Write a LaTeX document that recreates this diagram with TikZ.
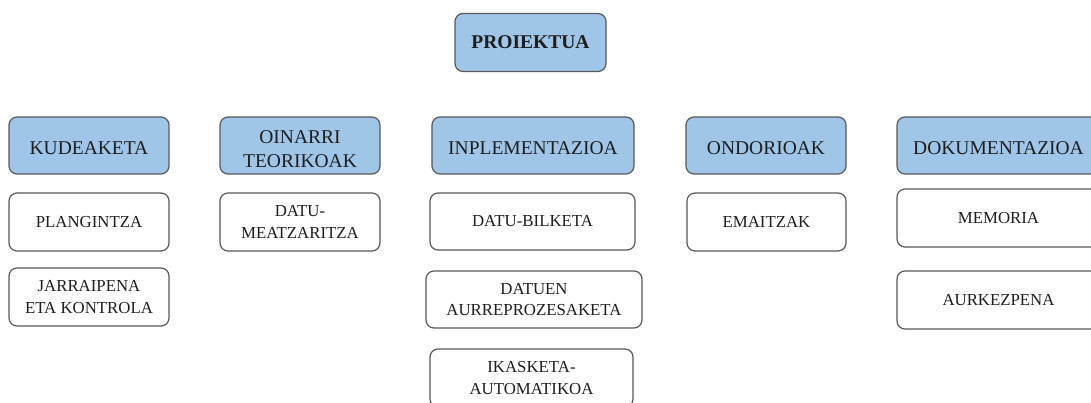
\documentclass[tikz,border=0pt]{standalone}
\usepackage{fontspec}
\setmainfont{Liberation Serif}
\definecolor{headfill}{HTML}{9FC5E8}
\definecolor{edge}{HTML}{595959}
\definecolor{ink}{HTML}{1E1E1E}
\tikzset{
  box/.style={draw=edge, line width=1.2pt, rounded corners=8pt, align=center,
    inner sep=0pt, text=ink, minimum height=57pt},
  rootbox/.style={box, fill=headfill, font=\fontsize{19.5}{24}\selectfont\bfseries},
  % section headers sit their text a little below the middle of the box
  headbox/.style={box, fill=headfill, font=\fontsize{19.5}{24}\selectfont,
    execute at begin node={\rule{0pt}{18.5pt}}},
  subbox/.style={box, fill=white, font=\fontsize{16.8}{21.5}\selectfont},
}
\begin{document}
\begin{tikzpicture}[x=1pt,y=-1pt]
\useasboundingbox (0,0) rectangle (1091,403);
\clip (0,0) rectangle (1091,403);
\fill[white] (0,0) rectangle (1091,403);

% root
\node[rootbox, minimum width=151pt, minimum height=58pt] (proj) at (530.5,42.5) {PROIEKTUA};

% section headers
\node[headbox, minimum width=160pt] (kud) at (89,145.5) {KUDEAKETA};
\node[headbox, minimum width=160pt] (oin) at (300,145.5) {\rule{0pt}{20pt}OINARRI\\TEORIKOAK};
\node[headbox, minimum width=202pt] (inp) at (533,145.5) {INPLEMENTAZIOA};
\node[headbox, minimum width=160pt] (ond) at (766,145.5) {ONDORIOAK};
\node[headbox, minimum width=203pt] (dok) at (998.5,145.5) {DOKUMENTAZIOA};

% tasks
\node[subbox, minimum width=160pt, minimum height=58pt] (plan) at (89,222) {PLANGINTZA};
\node[subbox, minimum width=160pt, minimum height=58pt] (jar) at (89,297) {JARRAIPENA\\ETA KONTROLA};
\node[subbox, minimum width=160pt, minimum height=58pt] (datu) at (300,222) {DATU-\\MEATZARITZA};
\node[subbox, minimum width=205pt] (bilk) at (532.5,221.5) {DATU-BILKETA};
\node[subbox, minimum width=216pt] (aurre) at (534,299.5) {DATUEN\\AURREPROZESAKETA};
\node[subbox, minimum width=203pt, minimum height=58pt] (ikas) at (531.5,378) {IKASKETA-\\AUTOMATIKOA};
\node[subbox, minimum width=159pt, minimum height=58pt] (ema) at (766.5,222) {EMAITZAK};
\node[subbox, minimum width=203pt, minimum height=58pt] (mem) at (998.5,218) {MEMORIA};
\node[subbox, minimum width=203pt, minimum height=58pt] (aurk) at (998.5,300) {AURKEZPENA};
\end{tikzpicture}
\end{document}
